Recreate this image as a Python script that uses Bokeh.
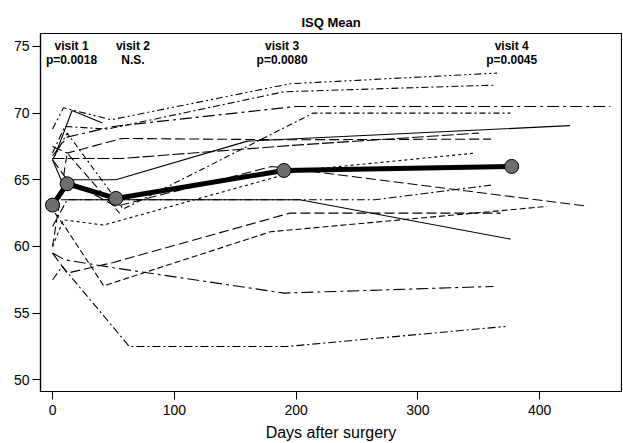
from bokeh.plotting import figure
from bokeh.embed import file_html
from bokeh.resources import INLINE
from bokeh.models import Range1d, FixedTicker
from bokeh.core.properties import value

# ---- data ----
p01_day = [0, 9, 48, 195, 365];     p01_isq = [68.8, 70.4, 69.5, 72.2, 73.0]
p02_day = [0, 10, 45, 190, 364];    p02_isq = [67.0, 69.0, 68.8, 71.6, 72.1]
p03_day = [0, 12, 50, 200, 458];    p03_isq = [66.8, 68.2, 69.0, 70.5, 70.5]
p04_day = [0, 12, 58, 214, 376];    p04_isq = [66.5, 68.5, 62.8, 70.0, 70.0]
p05_day = [2, 16, 41];              p05_isq = [66.8, 70.2, 69.25]
p06_day = [0, 7, 52, 160, 425];     p06_isq = [66.5, 65.0, 65.0, 67.9, 69.06]
p07_day = [0, 10, 57, 200, 350];    p07_isq = [66.6, 66.6, 66.6, 67.6, 68.5]
p08_day = [0, 12, 57, 190, 360];    p08_isq = [67.5, 67.0, 68.1, 68.0, 68.05]
p09_day = [7, 50, 203, 376];        p09_isq = [63.5, 63.5, 63.5, 60.55]
p10_day = [0, 12, 50, 265, 360];    p10_isq = [61.5, 63.5, 63.5, 63.5, 64.6]
p11_day = [0, 9, 42, 203, 347];     p11_isq = [60.0, 62.0, 61.6, 65.7, 67.0]
p12_day = [0, 12, 52, 180, 437];    p12_isq = [66.5, 65.0, 63.0, 66.0, 63.05]
p13_day = [2, 10, 42, 179, 406];    p13_isq = [62.5, 61.5, 57.05, 61.1, 63.0]
p14_day = [0, 12, 50, 195, 368];    p14_isq = [59.5, 58.0, 58.8, 62.5, 62.5]
p15_day = [0, 10, 50, 190, 362];    p15_isq = [59.5, 59.0, 58.4, 56.5, 57.0]
p16_day = [0, 8, 63, 193, 372];     p16_isq = [57.5, 58.5, 52.5, 52.5, 54.0]
p17_day = [0, 12, 55];              p17_isq = [60.0, 67.0, 62.5]

mean_day = [0, 12, 52, 190, 377]
mean_isq = [63.1, 64.7, 63.6, 65.7, 66.0]

visit_day = [15.6, 66, 188.5, 377]
visit_name = ["visit 1", "visit 2", "visit 3", "visit 4"]
visit_p = ["p=0.0018", "N.S.", "p=0.0080", "p=0.0045"]

x_ticks = [0, 100, 200, 300, 400]
y_ticks = [50, 55, 60, 65, 70, 75]

patients = [(p01_day, p01_isq), (p02_day, p02_isq), (p03_day, p03_isq), (p04_day, p04_isq),
            (p05_day, p05_isq), (p06_day, p06_isq), (p07_day, p07_isq), (p08_day, p08_isq),
            (p09_day, p09_isq), (p10_day, p10_isq), (p11_day, p11_isq), (p12_day, p12_isq),
            (p13_day, p13_isq), (p14_day, p14_isq), (p15_day, p15_isq), (p16_day, p16_isq),
            (p17_day, p17_isq)]

# ---- styles ----
dashes = ["7 3 2 3 2 3", "7 3 2 3", "12 4 3 4", "6 3 2 3", "solid", "solid", "12 3",
          "10 4", "solid", "8 3 2 3", "3 3", "10 4", "6 3", "10 4", "12 4 3 4", "8 3 2 3", "8 4"]

FONT = "Liberation Sans"

p = figure(frame_width=581, frame_height=358, output_backend="svg", toolbar_location=None,
           x_range=Range1d(-9.9, 467.2), y_range=Range1d(49.12, 75.97),
           min_border_left=40, min_border_right=1, min_border_top=33, min_border_bottom=51)

p.title.text = "ISQ Mean"
p.title.align = "center"
p.title.text_font = FONT
p.title.text_font_size = "13px"
p.title.text_font_style = "bold"
p.title.text_color = "black"
p.title.standoff = 8

p.xgrid.visible = False
p.ygrid.visible = False
p.outline_line_color = "black"
p.outline_line_width = 1.2
p.background_fill_color = "white"
p.border_fill_color = "white"

for ax in (p.xaxis[0], p.yaxis[0]):
    ax.axis_line_color = "black"
    ax.axis_line_width = 1.2
    ax.major_tick_in = 0
    ax.major_tick_out = 8
    ax.major_tick_line_color = "black"
    ax.minor_tick_line_color = None
    ax.major_label_text_font = FONT
    ax.major_label_text_font_size = "14px"
    ax.major_label_text_color = "black"

p.xaxis.major_label_standoff = 5
p.yaxis.major_label_standoff = 3

p.xaxis.ticker = FixedTicker(ticks=x_ticks)
p.yaxis.ticker = FixedTicker(ticks=y_ticks)
p.xaxis.axis_label = "Days after surgery"
p.xaxis.axis_label_text_font = FONT
p.xaxis.axis_label_text_font_size = "16px"
p.xaxis.axis_label_text_font_style = "normal"
p.xaxis.axis_label_text_color = "black"
p.xaxis.axis_label_standoff = 6

for (d, v), dash in zip(patients, dashes):
    p.line(d, v, line_color="black", line_width=1.1, line_dash=dash)

p.line(mean_day, mean_isq, line_color="black", line_width=5)
p.scatter(mean_day, mean_isq, size=14, fill_color="#6e6e6e", line_color="black", line_width=1)

p.text(visit_day, [75.0] * 4, text=visit_name, text_align="center", text_baseline="middle",
       text_font=value(FONT), text_font_size="12px", text_font_style="bold", text_color="black")
p.text(visit_day, [74.0] * 4, text=visit_p, text_align="center", text_baseline="middle",
       text_font=value(FONT), text_font_size="12px", text_font_style="bold", text_color="black")

open("out.html", "w").write(file_html(p, INLINE))
